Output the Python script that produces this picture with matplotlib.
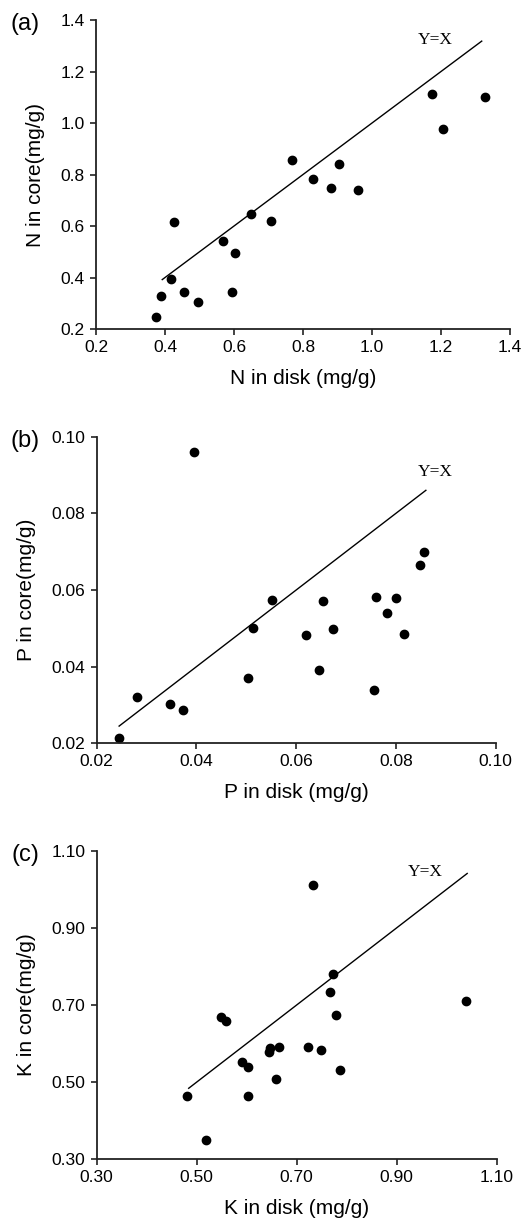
import matplotlib
matplotlib.use("Agg")
import matplotlib.pyplot as plt

plt.rcParams['font.family'] = ['Liberation Sans', 'DejaVu Sans']

# (a) nitrogen
n_disk = [1.175, 1.328, 1.206, 0.769, 0.828, 0.882, 0.905, 0.959, 0.648, 0.708,
          0.568, 0.604, 0.425, 0.418, 0.387, 0.456, 0.495, 0.595, 0.375]
n_core = [1.113, 1.101, 0.975, 0.856, 0.783, 0.746, 0.840, 0.740, 0.645, 0.621,
          0.542, 0.496, 0.616, 0.394, 0.327, 0.343, 0.304, 0.343, 0.248]

# (b) phosphorus
p_disk = [0.0396, 0.0281, 0.0346, 0.0374, 0.0504, 0.0513, 0.0551, 0.0620, 0.0646, 0.0654,
          0.0674, 0.0757, 0.0760, 0.0783, 0.0801, 0.0816, 0.0849, 0.0857, 0.0245]
p_core = [0.0960, 0.0322, 0.0303, 0.0287, 0.0371, 0.0501, 0.0574, 0.0482, 0.0391, 0.0570,
          0.0497, 0.0340, 0.0582, 0.0539, 0.0578, 0.0485, 0.0665, 0.0700, 0.0214]

# (c) potassium
k_disk = [0.732, 0.772, 0.767, 0.779, 1.039, 0.549, 0.559, 0.591, 0.603, 0.644,
          0.647, 0.665, 0.659, 0.723, 0.749, 0.787, 0.481, 0.603, 0.518]
k_core = [1.011, 0.780, 0.734, 0.673, 0.711, 0.669, 0.658, 0.552, 0.540, 0.578,
          0.588, 0.592, 0.509, 0.592, 0.584, 0.532, 0.464, 0.464, 0.350]

paineis = [
    dict(tag='(a)', x=n_disk, y=n_core, linha=(0.392, 1.318),
         lim=(0.2, 1.4), ticks=[0.2, 0.4, 0.6, 0.8, 1.0, 1.2, 1.4], fmt='{:.1f}',
         txt=(1.133, 1.322), xl='N in disk (mg/g)', yl='N in core(mg/g)',
         pos=[0.1832, 0.7303, 0.7901, 0.2533]),
    dict(tag='(b)', x=p_disk, y=p_core, linha=(0.0245, 0.086),
         lim=(0.02, 0.10), ticks=[0.02, 0.04, 0.06, 0.08, 0.10], fmt='{:.2f}',
         txt=(0.0844, 0.0908), xl='P in disk (mg/g)', yl='P in core(mg/g)',
         pos=[0.1845, 0.3907, 0.7615, 0.2514]),
    dict(tag='(c)', x=k_disk, y=k_core, linha=(0.484, 1.041),
         lim=(0.30, 1.10), ticks=[0.30, 0.50, 0.70, 0.90, 1.10], fmt='{:.2f}',
         txt=(0.923, 1.045), xl='K in disk (mg/g)', yl='K in core(mg/g)',
         pos=[0.1845, 0.0498, 0.7634, 0.2529]),
]

fig = plt.figure(figsize=(5.24, 12.2), dpi=100)

for p in paineis:
    ax = fig.add_axes(p['pos'])
    ax.plot(p['x'], p['y'], 'o', color='black', markersize=6, clip_on=False)
    ax.plot(p['linha'], p['linha'], color='black', linewidth=1.0)
    ax.text(p['txt'][0], p['txt'][1], 'Y=X', family='Liberation Serif',
            fontsize=12.5, ha='left', va='center')
    ax.set_xlim(p['lim'])
    ax.set_ylim(p['lim'])
    ax.set_xticks(p['ticks'])
    ax.set_yticks(p['ticks'])
    ax.set_xticklabels([p['fmt'].format(t) for t in p['ticks']])
    ax.set_yticklabels([p['fmt'].format(t) for t in p['ticks']])
    ax.tick_params(direction='out', length=4.5, width=1.2, labelsize=12.5,
                   pad=3.5, colors='#222222', labelcolor='black')
    for lado in ['top', 'right']:
        ax.spines[lado].set_visible(False)
    for lado in ['left', 'bottom']:
        ax.spines[lado].set_linewidth(1.3)
        ax.spines[lado].set_color('#222222')
    ax.set_xlabel(p['xl'], fontsize=15, labelpad=10)
    ax.set_ylabel(p['yl'], fontsize=15, labelpad=11)
    ytop = p['pos'][1] + p['pos'][3]
    fig.text(25 / 524, ytop - 4 / 1220, p['tag'], fontsize=17,
             ha='center', va='center')

fig.savefig('out.png', dpi=100)
